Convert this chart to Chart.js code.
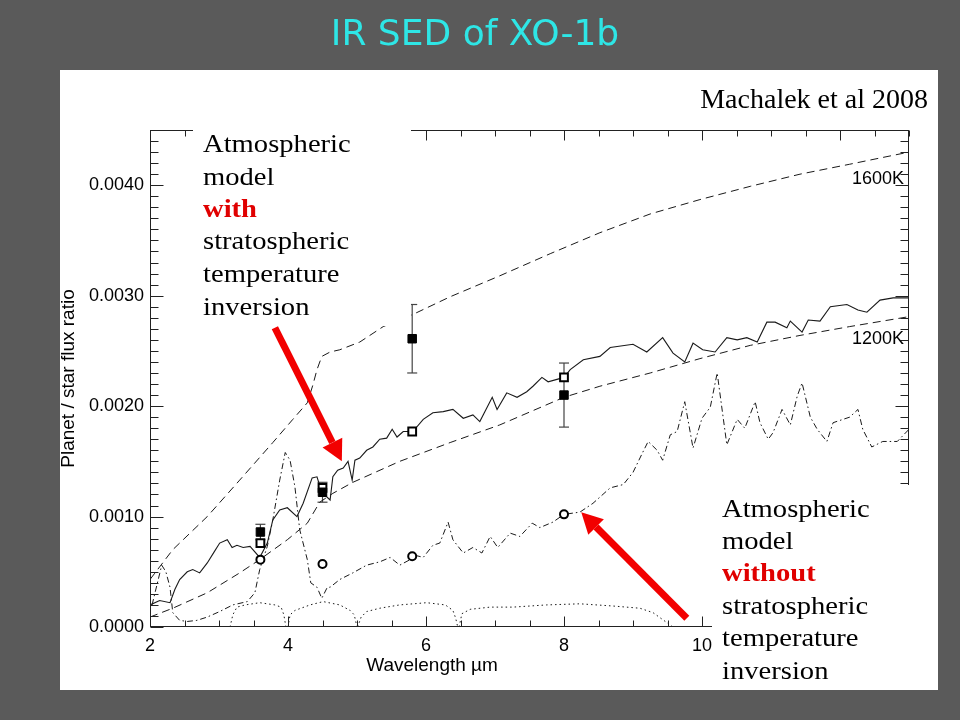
<!DOCTYPE html>
<html>
<head>
<meta charset="utf-8">
<script src="https://cdn.jsdelivr.net/npm/chart.js@4"></script>
<style>
  html, body { margin: 0; padding: 0; background: #5a5a5a; }
</style>
</head>
<body>
<canvas id="sed" width="960" height="720"></canvas>
<script>
// Spitzer IRAC points (Machalek et al 2008)
const obsWave = [3.6, 4.5, 5.8, 8.0];
const obsRatio = [0.00086, 0.00122, 0.00261, 0.00210];
const obsErr = [0.00007, 0.00009, 0.00031, 0.00029];
const invBand = [0.00076, 0.00126, 0.00177, 0.00226];    // open squares
const noInvBand = [0.00061, 0.00057, 0.00064, 0.00102];  // open circles

// model with inversion (solid)
const invWave = [2.00, 2.14, 2.29, 2.36, 2.43, 2.54, 2.62, 2.72, 2.83, 2.93, 3.01, 3.12, 3.19, 3.26, 3.35, 3.45,
    3.59, 3.70, 3.78, 3.88, 3.99, 4.13, 4.22, 4.35, 4.42, 4.49, 4.61, 4.65, 4.72, 4.80, 4.87, 4.93, 4.97, 5.04,
    5.14, 5.23, 5.33, 5.43, 5.51, 5.58, 5.67, 5.81, 5.96, 6.10, 6.25, 6.39, 6.54, 6.68, 6.78, 6.96, 7.03, 7.17,
    7.32, 7.46, 7.55, 7.68, 7.77, 8.00, 8.09, 8.28, 8.52, 8.67, 9.00, 9.20, 9.43, 9.58, 9.75, 9.87, 10.01, 10.19,
    10.36, 10.51, 10.65, 10.80, 10.94, 11.06, 11.23, 11.28, 11.45, 11.54, 11.71, 11.86, 12.10, 12.26, 12.39,
    12.58, 12.77, 13.00];
const invRatio = [0.00020, 0.00024, 0.00022, 0.00034, 0.00043, 0.00050, 0.00052, 0.00049, 0.00058, 0.00068,
    0.00076, 0.00079, 0.00072, 0.00074, 0.00072, 0.00073, 0.00063, 0.00076, 0.00097, 0.00106, 0.00108, 0.00100,
    0.00112, 0.00135, 0.00136, 0.00122, 0.00115, 0.00136, 0.00142, 0.00144, 0.00150, 0.00133, 0.00151, 0.00153,
    0.00160, 0.00163, 0.00170, 0.00171, 0.00179, 0.00172, 0.00177, 0.00177, 0.00188, 0.00194, 0.00195, 0.00197,
    0.00189, 0.00192, 0.00186, 0.00208, 0.00197, 0.00212, 0.00208, 0.00213, 0.00218, 0.00226, 0.00222, 0.00226,
    0.00233, 0.00242, 0.00245, 0.00253, 0.00256, 0.00249, 0.00262, 0.00248, 0.00240, 0.00257, 0.00251, 0.00249,
    0.00262, 0.00260, 0.00262, 0.00258, 0.00276, 0.00276, 0.00271, 0.00277, 0.00267, 0.00278, 0.00277, 0.00290,
    0.00292, 0.00287, 0.00285, 0.00296, 0.00298, 0.00298];

// model without inversion (dash-dot)
const noInvWave = [2.03, 2.10, 2.17, 2.23, 2.29, 2.33, 2.43, 2.54, 2.68, 2.83, 3.01, 3.20, 3.41, 3.52, 3.59, 3.70,
    3.78, 3.88, 3.96, 4.03, 4.10, 4.17, 4.28, 4.33, 4.42, 4.49, 4.57, 4.61, 4.75, 4.94, 5.14, 5.33, 5.48, 5.62,
    5.77, 5.84, 5.96, 6.10, 6.20, 6.32, 6.39, 6.54, 6.68, 6.81, 6.93, 7.04, 7.22, 7.36, 7.54, 7.65, 7.84, 8.00,
    8.23, 8.42, 8.67, 8.86, 9.00, 9.14, 9.22, 9.35, 9.43, 9.54, 9.64, 9.75, 9.87, 10.00, 10.12, 10.22, 10.36,
    10.51, 10.62, 10.77, 10.84, 10.96, 11.03, 11.16, 11.28, 11.38, 11.45, 11.57, 11.67, 11.81, 11.90, 12.14,
    12.26, 12.33, 12.46, 12.62, 12.83, 13.00];
const noInvRatio = [0.00020, 0.00038, 0.00056, 0.00050, 0.00036, 0.00013, 0.00006, 0.00005, 0.00006, 0.00009,
    0.00014, 0.00020, 0.00023, 0.00031, 0.00052, 0.00073, 0.00097, 0.00133, 0.00158, 0.00151, 0.00127, 0.00088,
    0.00061, 0.00040, 0.00036, 0.00026, 0.00036, 0.00036, 0.00043, 0.00049, 0.00056, 0.00059, 0.00063, 0.00056,
    0.00061, 0.00065, 0.00063, 0.00074, 0.00076, 0.00095, 0.00079, 0.00067, 0.00072, 0.00067, 0.00082, 0.00072,
    0.00085, 0.00082, 0.00094, 0.00090, 0.00095, 0.00102, 0.00104, 0.00112, 0.00126, 0.00129, 0.00140, 0.00158,
    0.00168, 0.00160, 0.00151, 0.00174, 0.00177, 0.00204, 0.00162, 0.00189, 0.00199, 0.00230, 0.00165, 0.00188,
    0.00180, 0.00204, 0.00185, 0.00170, 0.00176, 0.00197, 0.00183, 0.00209, 0.00221, 0.00190, 0.00179, 0.00168,
    0.00185, 0.00190, 0.00197, 0.00179, 0.00163, 0.00168, 0.00168, 0.00179];

// blackbody ratios (dashed)
const bb1600Wave = [2.00, 2.33, 2.83, 3.30, 3.78, 4.07, 4.28, 4.36, 4.42, 4.49, 4.61, 4.75, 5.04, 5.38, 5.81,
    6.35, 7.07, 7.80, 8.52, 9.25, 9.97, 10.70, 11.42, 12.14, 13.00];
const bb1600Ratio = [0.00043, 0.00070, 0.00100, 0.00133, 0.00167, 0.00188, 0.00203, 0.00219, 0.00233, 0.00245,
    0.00249, 0.00251, 0.00258, 0.00272, 0.00283, 0.00299, 0.00318, 0.00338, 0.00357, 0.00374, 0.00387, 0.00399,
    0.00410, 0.00419, 0.00430];
const bb1200Wave = [2.00, 2.33, 2.83, 3.30, 3.59, 3.99, 4.28, 4.46, 4.65, 4.94, 5.62, 6.35, 7.07, 8.00, 8.52,
    9.25, 9.97, 10.70, 11.42, 12.14, 13.00];
const bb1200Ratio = [0.00009, 0.00017, 0.00031, 0.00049, 0.00061, 0.00079, 0.00094, 0.00113, 0.00121, 0.00131,
    0.00150, 0.00167, 0.00183, 0.00208, 0.00218, 0.00230, 0.00243, 0.00255, 0.00264, 0.00272, 0.00281];
const bbLabels = ['1600K', '1200K'];
const bbLabelRatio = [0.00401, 0.00256];

// IRAC filter curves (dotted)
const ch1Wave = [3.16, 3.20, 3.26, 3.38, 3.59, 3.81, 3.90, 3.94, 3.97];
const ch1Resp = [0.00000, 0.00011, 0.00018, 0.00020, 0.00022, 0.00020, 0.00018, 0.00011, 0.00000];
const ch2Wave = [4.00, 4.03, 4.10, 4.32, 4.51, 4.75, 4.90, 4.96, 5.00];
const ch2Resp = [0.00000, 0.00011, 0.00015, 0.00020, 0.00023, 0.00020, 0.00015, 0.00011, 0.00000];
const ch3Wave = [5.01, 5.06, 5.14, 5.33, 5.62, 6.01, 6.28, 6.39, 6.43, 6.46];
const ch3Resp = [0.00000, 0.00009, 0.00014, 0.00017, 0.00020, 0.00022, 0.00020, 0.00015, 0.00008, 0.00000];
const ch4Wave = [6.48, 6.52, 6.64, 6.93, 7.26, 7.75, 8.23, 8.71, 9.10, 9.29, 9.49, 9.58];
const ch4Resp = [0.00000, 0.00012, 0.00016, 0.00018, 0.00018, 0.00020, 0.00021, 0.00019, 0.00017, 0.00013,
    0.00004, 0.00000];

const xTickLabels = [2, 4, 6, 8, 10];
const xMinorStep = 0.5;
const yMinorStep = 0.0001;

const withText = ['Atmospheric', 'model', 'with', 'stratospheric', 'temperature', 'inversion'];
const withoutText = ['Atmospheric', 'model', 'without', 'stratospheric', 'temperature', 'inversion'];
// arrows: [tailWave, tailRatio, tipWave, tipRatio]
const arrowWith = [3.81, 0.00271, 4.78, 0.00150];
const arrowWithout = [9.78, 0.00008, 8.25, 0.00104];

const pts = (xs, ys) => xs.map((x, i) => ({ x: x, y: ys[i] }));

function line(ctx, x0, y0, x1, y1) {
    ctx.beginPath();
    ctx.moveTo(x0, y0);
    ctx.lineTo(x1, y1);
    ctx.stroke();
}

function stretchText(ctx, text, x, y, font, color, sx) {
    ctx.save();
    ctx.translate(x, y);
    ctx.scale(sx, 1);
    ctx.font = font;
    ctx.fillStyle = color;
    ctx.textAlign = 'left';
    ctx.textBaseline = 'alphabetic';
    ctx.fillText(text, 0, 0);
    ctx.restore();
}

function drawArrow(ctx, sx, sy, a) {
    const x0 = sx.getPixelForValue(a[0]), y0 = sy.getPixelForValue(a[1]);
    const x1 = sx.getPixelForValue(a[2]), y1 = sy.getPixelForValue(a[3]);
    const ang = Math.atan2(y1 - y0, x1 - x0);
    const headLen = 21, headHalf = 11;
    const bx = x1 - headLen * Math.cos(ang), by = y1 - headLen * Math.sin(ang);
    ctx.save();
    ctx.strokeStyle = '#f20000';
    ctx.fillStyle = '#f20000';
    ctx.lineWidth = 7;
    line(ctx, x0, y0, bx, by);
    ctx.beginPath();
    ctx.moveTo(x1, y1);
    ctx.lineTo(bx + headHalf * Math.sin(ang), by - headHalf * Math.cos(ang));
    ctx.lineTo(bx - headHalf * Math.sin(ang), by + headHalf * Math.cos(ang));
    ctx.closePath();
    ctx.fill();
    ctx.restore();
}

function drawNote(ctx, lines, x, baselines, box) {
    ctx.fillStyle = '#ffffff';
    ctx.fillRect(box[0], box[1], box[2] - box[0], box[3] - box[1]);
    lines.forEach((t, i) => {
        const red = (i === 2);
        const font = (red ? 'bold ' : '') + '26px "Liberation Serif"';
        stretchText(ctx, t, x, baselines[i], font, red ? '#e00000' : '#000000', 1.1);
    });
}

const slidePlugin = {
    id: 'slide',
    beforeDraw(chart) {
        const ctx = chart.ctx;
        ctx.save();
        ctx.fillStyle = '#5a5a5a';
        ctx.fillRect(0, 0, chart.width, chart.height);
        ctx.fillStyle = '#ffffff';
        ctx.fillRect(60, 70, 878, 620);
        ctx.restore();
    },
    beforeDatasetsDraw(chart) {
        // error bars under the markers
        const ctx = chart.ctx, sx = chart.scales.x, sy = chart.scales.y;
        ctx.save();
        ctx.strokeStyle = '#444';
        ctx.lineWidth = 1.2;
        obsWave.forEach((w, i) => {
            const px = sx.getPixelForValue(w);
            const top = sy.getPixelForValue(obsRatio[i] + obsErr[i]);
            const bot = sy.getPixelForValue(obsRatio[i] - obsErr[i]);
            line(ctx, px, top, px, bot);
            line(ctx, px - 5, top, px + 5, top);
            line(ctx, px - 5, bot, px + 5, bot);
        });
        ctx.restore();
    },
    afterDatasetsDraw(chart) {
        // IDL style box with inward ticks
        const ctx = chart.ctx, sx = chart.scales.x, sy = chart.scales.y, ca = chart.chartArea;
        ctx.save();
        ctx.strokeStyle = '#222';
        ctx.lineWidth = 1;
        const L = Math.round(ca.left) + 0.5, R = Math.round(ca.right) - 0.5;
        const T = Math.round(ca.top) + 0.5, B = Math.round(ca.bottom) - 0.5;
        ctx.strokeRect(L, T, R - L, B - T);
        for (let v = sx.min; v <= sx.max + 1e-9; v += xMinorStep) {
            const px = Math.round(sx.getPixelForValue(v)) + 0.5;
            const major = Math.abs(v / 2 - Math.round(v / 2)) < 1e-6;
            const len = major ? 10 : 6;
            line(ctx, px, B, px, B - len);
            line(ctx, px, T, px, T + len);
        }
        for (let k = 0; k * yMinorStep <= sy.max + 1e-12; k++) {
            const py = Math.round(sy.getPixelForValue(k * yMinorStep)) + 0.5;
            const len = (k % 10 === 0) ? 13 : 8;
            line(ctx, L, py, L + len, py);
            line(ctx, R, py, R - len, py);
        }
        ctx.restore();
    },
    afterDraw(chart) {
        const ctx = chart.ctx, sx = chart.scales.x, sy = chart.scales.y, ca = chart.chartArea;
        ctx.save();
        // blackbody labels
        ctx.font = '18px "Liberation Sans"';
        ctx.fillStyle = '#000';
        ctx.textAlign = 'right';
        ctx.textBaseline = 'alphabetic';
        bbLabels.forEach((t, i) => ctx.fillText(t, ca.right - 5, sy.getPixelForValue(bbLabelRatio[i])));

        // axis titles
        ctx.font = '19px "Liberation Sans"';
        ctx.textAlign = 'center';
        ctx.fillText('Wavelength \u00b5m', 432, 671);
        ctx.save();
        ctx.translate(74, (ca.top + ca.bottom) / 2);
        ctx.rotate(-Math.PI / 2);
        ctx.fillText('Planet / star flux ratio', 0, 0);
        ctx.restore();

        // slide title and reference
        ctx.font = '36px "DejaVu Sans"';
        ctx.fillStyle = '#2ee6e6';
        ctx.textAlign = 'center';
        ctx.fillText('IR SED of XO-1b', 475, 45);
        ctx.font = '28px "Liberation Serif"';
        ctx.fillStyle = '#000';
        ctx.textAlign = 'right';
        ctx.fillText('Machalek et al 2008', 928, 108);

        // call-out boxes and arrows
        drawNote(ctx, withText, 203, [152, 185, 217, 249, 282, 315], [193, 118, 411, 326]);
        drawNote(ctx, withoutText, 722, [517, 549, 581, 614, 646, 679], [712, 485, 938, 690]);
        drawArrow(ctx, sx, sy, arrowWith);
        drawArrow(ctx, sx, sy, arrowWithout);
        ctx.restore();
    }
};

const lineSet = (xs, ys, dash, width) => ({
    data: pts(xs, ys),
    showLine: true,
    pointRadius: 0,
    borderColor: '#1a1a1a',
    borderWidth: width,
    borderDash: dash,
    fill: false,
    order: 2,
});

const markerSet = (ys, style, radius, bg, bw) => ({
    data: pts(obsWave, ys),
    showLine: false,
    pointStyle: style,
    pointRadius: radius,
    backgroundColor: bg,
    borderColor: '#000',
    borderWidth: bw,
    order: 0,
});

const config = {
    type: 'scatter',
    data: {
        datasets: [
            markerSet(obsRatio, 'rect', 6, '#000', 1),
            markerSet(invBand, 'rect', 5.5, '#fff', 2),
            markerSet(noInvBand, 'circle', 4, '#fff', 2),
            lineSet(invWave, invRatio, [], 1.1),
            lineSet(noInvWave, noInvRatio, [6, 3, 1.5, 3], 1),
            lineSet(bb1600Wave, bb1600Ratio, [8, 5], 1),
            lineSet(bb1200Wave, bb1200Ratio, [8, 5], 1),
            lineSet(ch1Wave, ch1Resp, [1.5, 3], 1),
            lineSet(ch2Wave, ch2Resp, [1.5, 3], 1),
            lineSet(ch3Wave, ch3Resp, [1.5, 3], 1),
            lineSet(ch4Wave, ch4Resp, [1.5, 3], 1),
        ]
    },
    options: {
        responsive: false,
        animation: false,
        devicePixelRatio: 1,
        layout: {
            padding: { left: 60, right: 51, top: 130, bottom: 30 }
        },
        scales: {
            x: {
                type: 'linear',
                min: 2,
                max: 13,
                grid: { display: false, drawTicks: false },
                border: { display: false },
                ticks: {
                    stepSize: 2,
                    includeBounds: false,
                    autoSkip: false,
                    maxRotation: 0,
                    padding: 8,
                    color: '#000',
                    font: { family: 'Liberation Sans', size: 18 },
                    callback: v => xTickLabels.includes(v) ? String(v) : ''
                },
                afterFit: s => { s.height = 63; }
            },
            y: {
                min: 0,
                max: 0.0045,
                grid: { display: false, drawTicks: false },
                border: { display: false },
                ticks: {
                    stepSize: 0.001,
                    includeBounds: false,
                    padding: 6,
                    color: '#000',
                    font: { family: 'Liberation Sans', size: 18 },
                    callback: v => v.toFixed(4)
                },
                afterFit: s => { s.width = 90; }
            }
        },
        plugins: {
            legend: { display: false },
            tooltip: { enabled: false }
        }
    },
    plugins: [slidePlugin]
};

const sedChart = new Chart(document.getElementById('sed'), config);
</script>
</body>
</html>
